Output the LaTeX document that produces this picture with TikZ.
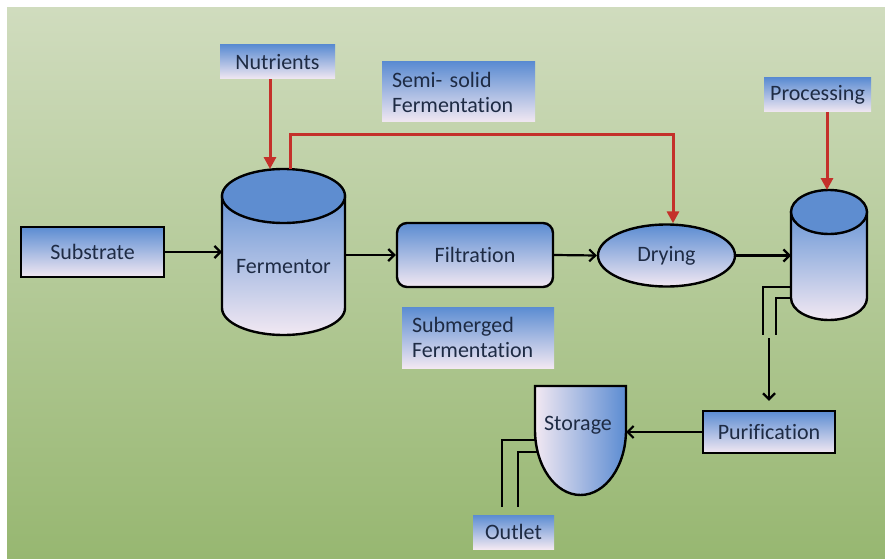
\documentclass[tikz,border=0pt]{standalone}
\usepackage{fontspec}
\setmainfont{Carlito}[Ligatures=NoCommon]
\usetikzlibrary{arrows.meta,shapes.geometric,calc}
\definecolor{bgtop}{HTML}{D0DCBE}
\definecolor{bgbot}{HTML}{97B771}
\definecolor{bxblue}{HTML}{5B8CD2}
\definecolor{bxwhite}{HTML}{F2E8F2}
\definecolor{cyltop}{HTML}{5E8DD0}
\definecolor{txt}{HTML}{1E2B44}
\definecolor{redl}{HTML}{C4302A}
\begin{document}
\begin{tikzpicture}[x=1pt,y=1pt,
  lbl/.style={font=\fontsize{22}{25}\selectfont, text=txt},
  gradbox/.style={lbl, top color=bxblue, bottom color=bxwhite, inner sep=0pt},
  bbox/.style={gradbox, draw=black, line width=2.4pt},
  tagbox/.style={gradbox},
  shapeline/.style={draw=black, line width=2.4pt},
  arr/.style={draw=black, line width=2.2pt, -{Straight Barb[length=6pt,width=12pt]}},
  redarr/.style={draw=redl, line width=3pt, -{Triangle[length=12pt,width=12pt]}},
  pipe/.style={draw=black, line width=2.4pt},
  ghost/.style={inner sep=0pt, outer sep=0pt}
]
% background
\fill[white] (0,0) rectangle (885,558);
\shade[top color=bgtop, bottom color=bgbot] (7,0) rectangle (885,550);

% ---- invisible boxes for drawn shapes
\node[ghost, minimum width=123pt, minimum height=166pt] (fermbox) at (283.5,306) {};
\node[ghost, minimum width=76pt, minimum height=130pt] (rcyl) at (829,303) {};
\node[ghost, minimum width=91pt, minimum height=109pt] (stor) at (580.5,117.5) {};

% ---- Fermentor cylinder
\path[shapeline, top color=bxblue!90!white, bottom color=bxwhite]
  (222,362) -- (222,250) arc[start angle=180, end angle=360, x radius=61.5, y radius=27] -- (345,362) -- cycle;
\path[shapeline, fill=cyltop] (283.5,362) ellipse[x radius=61.5, y radius=27];
\node[lbl] (ferm) at (283.5,291) {Fermentor};

% ---- right cylinder pipes
\draw[pipe] (791,271) -| (763,223);
\draw[pipe] (791,260) -| (776,223);
% ---- right cylinder
\path[shapeline, top color=bxblue!90!white, bottom color=bxwhite]
  (791,346) -- (791,260) arc[start angle=180, end angle=360, x radius=38, y radius=22] -- (867,346) -- cycle;
\path[shapeline, fill=cyltop] (829,346) ellipse[x radius=38, y radius=22];

% ---- storage pipes
\draw[pipe] (535.5,118) -| (502,51);
\draw[pipe] (537.7,106) -| (518,51);
% ---- storage
\path[shapeline, left color=bxwhite, right color=bxblue]
  (535,172) -- (535,128) arc[start angle=180, end angle=360, x radius=45.5, y radius=65] -- (626,172) -- cycle;
\node[lbl] (storlbl) at (578,133) {Storage};

% ---- boxes
\node[bbox, minimum width=143pt, minimum height=50pt] (sub) at (92.5,306) {Substrate};
\node[bbox, rounded corners=10pt, minimum width=156pt, minimum height=64pt] (filt) at (475,303) {Filtration};
\node[bbox, ellipse, minimum width=137pt, minimum height=62pt] (dry) at (666.5,302.5) {Drying};
\node[bbox, minimum width=132pt, minimum height=42pt] (purif) at (769,126) {Purification};

% ---- tag boxes
\node[tagbox, minimum width=115pt, minimum height=34pt] (nut) at (277.5,496) {Nutrients};
\node[tagbox, minimum width=153pt, minimum height=60pt, text width=133pt, align=left] (semi) at (458.5,466) {Semi- solid\\Fermentation};
\node[tagbox, minimum width=152pt, minimum height=61pt, text width=132pt, align=left] (subm) at (478,220.5) {Submerged\\Fermentation};
\node[tagbox, minimum width=107pt, minimum height=34pt] (proc) at (817.5,463) {Processing};
\node[tagbox, minimum width=81pt, minimum height=34pt] (outl) at (513.5,26) {Outlet};

% ---- coordinates
\coordinate (nutin) at (270,389);
\coordinate (fermout) at (290,389);
\coordinate (redturn) at (673,423);
\coordinate (rcyltop) at (827,368);
\coordinate (pipeend) at (769,220);

% ---- black connectors
\draw[arr] (sub.east) -- (sub.east -| fermbox.west);
\draw[arr] (filt.west -| fermbox.east) -- (filt.west);
\draw[arr] (filt.east) -- (dry.west);
\draw[arr] (dry.east) -- (dry.east -| rcyl.west);
\draw[arr, shorten >=9pt] (purif.north |- pipeend) -- (purif.north);
\draw[arr] (purif.west) -- (purif.west -| stor.east);

% ---- red connectors
\draw[redarr] (nutin |- nut.south) -- (nutin);
\draw[redarr] (fermout) |- (redturn) -- (redturn |- dry.north);
\draw[redarr] (rcyltop |- proc.south) -- (rcyltop);
\end{tikzpicture}
\end{document}
